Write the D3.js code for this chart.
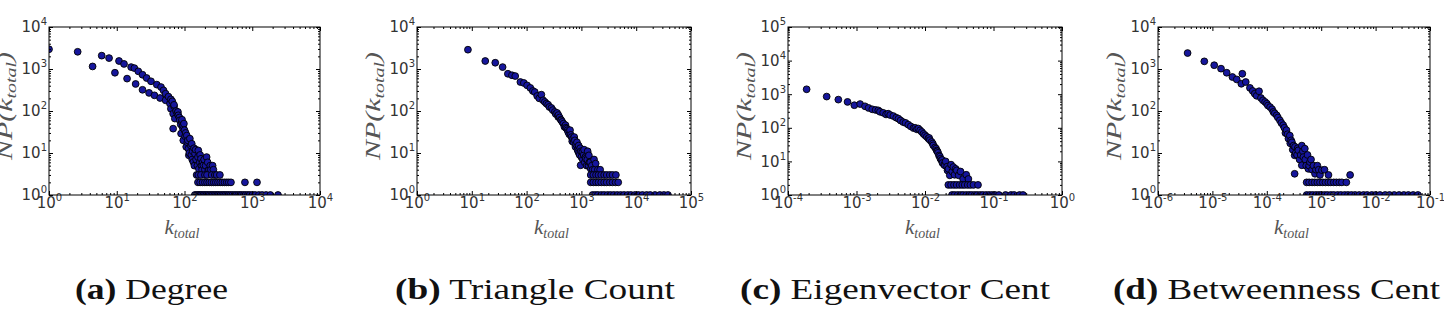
<!DOCTYPE html>
<html>
<head>
<meta charset="utf-8">
<script src="https://cdn.jsdelivr.net/npm/d3@7"></script>
<style>
  body { margin: 0; background: #fff; }
  svg { display: block; }
  .tick text { fill: #333; }
  .box { fill: none; stroke: #000; stroke-width: 1; }
  .dot { fill: #16169c; stroke: #000; stroke-width: 0.9; }
  .axis-title { font-family: "Liberation Serif", serif; font-style: italic; fill: #555; }
  .caption { font-family: "Liberation Serif", serif; fill: #111; }
</style>
</head>
<body>
<svg id="chart" width="1444" height="317"></svg>
<script>
// ---- data: [k_total, NP(k_total)] ----
const degree = [
  [1,2950],[2.65,2570],[4.4,1150],[6,2080],[7.7,1820],[9.4,815],[10.8,1550],[12.8,1320],
  [14.2,590],[16.3,1110],[18.2,1050],[19,440],[20.8,880],[24,730],[24,320],[27.6,610],
  [30,270],[32,510],[36,236],[39,425],[43.6,204],[45,372],[49,310],[52.6,180],[52.6,258],
  [58,220],[61,150],[63,190],[63,113],[66,170],[68,38],[68,86],[70,130],[70,140],[72,66],
  [75,100],[78,88],[80,95],[81,79],[84,70],[85,60],[88,48],[89,29],[91,55],[92,62],[94,40],
  [95,45],[96,20],[98,50],[100,35],[102,25],[104,30],[106,14],[108,26],[110,18],[112,20],
  [114,12.6],[116,8.8],[118,10],[120,22],[124,15],[126,9],[128,16.6],[130,7],[132,11],
  [135,6.1],[138,13],[140,5],[143,9.6],[146,12],[148,7],[155,5],[158,8],[160,11.5],
  [163,4.2],[168,6],[170,9],[175,7.3],[178,5],[182,4],[185,6],[190,5.1],[195,7],[200,4],
  [205,5],[212,8],[220,6],[225,3.9],[230,4],[240,5],[245,4],[260,5],[267,4]
];
const degreeThrees = [151, 160, 175, 200, 215, 252, 280, 298, 333];
const degreeTwos = [158, 170, 185, 200, 215, 232, 250, 270, 290, 312, 336, 362, 390, 420, 450, 485, 780, 1175];
const degreeOnes = [142, 150, 158, 165, 172, 180, 190, 200, 210, 222, 235, 248, 260, 275, 290, 305, 320, 340,
  360, 380, 400, 425, 450, 480, 510, 545, 580, 620, 660, 700, 750, 800, 860, 920, 1000, 1100, 1250, 1400,
  1600, 1850, 2400];

const triangles = [
  [8.5,2880],[17.6,1550],[26.8,1410],[36.5,1110],[45.5,770],[54,710],[62,680],[77,490],
  [89,465],[102,408],[117,355],[130,300],[141,283],[156,228],[170,200],[186,245],[200,180],
  [215,164],[230,150],[247,141],[260,125],[284,118],[300,105],[327,95],[340,85],[360,90],
  [378,72],[380,80],[400,70],[420,62],[430,60],[447,55],[470,50],[490,42],[513,46],[520,40],
  [540,38],[560,35],[575,31.6],[600,28],[620,35],[640,27],[660,24],[680,19],[700,22],
  [720,18],[740,24],[760,20],[780,14],[800,16],[830,18],[850,12],[870,11],[890,15],[900,10],
  [930,9],[950,13],[967,5.1],[980,11],[1000,8],[1040,10.6],[1060,7],[1100,9],[1120,12],
  [1150,6],[1180,8],[1200,7.3],[1250,5],[1280,7],[1300,11],[1350,5],[1370,8.8],[1400,6],
  [1450,6],[1480,4.2],[1550,5],[1600,4],[1700,7],[1750,4],[1820,5.6],[1950,3.2],[2000,4],
  [2200,4]
];
const triangleThrees = [1480, 1650, 1850, 2050, 2300, 2600, 2900, 3300, 3700, 4260];
const triangleTwos = [1480, 1650, 1850, 2050, 2300, 2600, 2900, 3300, 3700, 4200, 4700];
const triangleOnes = [1600, 1800, 2000, 2300, 2600, 3000, 3400, 3900, 4500, 5200, 6000, 7000, 8000, 9500,
  11000, 13000, 15500, 18000, 22000, 27000, 32000, 38000];

const eigenvector = [
  [1.87e-4,1400],[3.67e-4,850],[5.43e-4,690],[7.4e-4,590],[9.3e-4,470],[1.13e-3,510],
  [1.33e-3,437],[1.5e-3,390],[1.7e-3,355],[1.9e-3,340],[2.08e-3,330],[2.2e-3,300],
  [2.45e-3,280],[2.7e-3,250],[2.9e-3,263],[3.1e-3,240],[3.45e-3,224],[3.8e-3,200],
  [4.1e-3,186],[4.4e-3,165],[4.8e-3,148],[5.2e-3,140],[5.7e-3,124],[6.2e-3,110],
  [6.8e-3,98],[7.2e-3,100],[7.6e-3,90],[8e-3,95],[8.5e-3,84],[9e-3,75],[9.5e-3,66],
  [0.01,60],[0.0106,54],[0.0112,48],[0.0115,50],[0.0118,43],[0.0125,38],[0.013,34],
  [0.0132,30],[0.014,26],[0.0145,24],[0.0148,21],[0.0152,20],[0.0155,18],[0.016,15],
  [0.0165,14],[0.0168,12],[0.0174,10.8],[0.0178,11],[0.018,9],[0.019,8],[0.0195,7.6],
  [0.02,10],[0.021,7],[0.0213,5.4],[0.022,6],[0.023,3.85],[0.024,8],[0.025,5],[0.0259,6.8],
  [0.027,4],[0.028,6],[0.029,5.4],[0.031,3.85],[0.033,5],[0.036,3],[0.04,4],[0.043,3]
];
const eigenTwos = [0.0219, 0.024, 0.0265, 0.029, 0.032, 0.035, 0.038, 0.042, 0.046, 0.051, 0.0594];
const eigenOnes = [0.0248, 0.027, 0.03, 0.033, 0.036, 0.04, 0.044, 0.048, 0.053, 0.058, 0.064, 0.07, 0.078,
  0.086, 0.095, 0.105, 0.12, 0.15, 0.18, 0.2, 0.24, 0.27];

const betweenness = [
  [3.5e-6,2400],[7.1e-6,1520],[1.08e-5,1230],[1.44e-5,1020],[1.83e-5,815],[2.33e-5,645],
  [2.8e-5,565],[3.55e-5,770],[3.4e-5,445],[4.1e-5,490],[4.9e-5,355],[5.5e-5,300],[6e-5,258],
  [6.5e-5,230],[7.2e-5,295],[7.8e-5,204],[8.5e-5,180],[9.3e-5,164],[1e-4,150],[1.05e-4,135],
  [1.15e-4,124],[1.25e-4,110],[1.32e-4,95],[1.4e-4,88],[1.52e-4,79],[1.6e-4,70],[1.74e-4,60],
  [1.85e-4,52],[2e-4,46],[2.1e-4,40],[2.2e-4,30],[2.3e-4,35],[2.4e-4,28],[2.5e-4,22],
  [2.65e-4,26],[2.7e-4,17],[2.8e-4,20],[2.9e-4,18],[3e-4,12],[3.1e-4,15],[3.25e-4,8.8],
  [3.3e-4,14],[3.25e-4,3.2],[3.4e-4,10],[3.6e-4,9],[3.7e-4,13],[3.8e-4,11.6],[4e-4,7],
  [4.2e-4,9],[4.4e-4,15],[4.4e-4,5.1],[4.6e-4,11],[4.7e-4,8],[5e-4,12.7],[5.1e-4,7],
  [5.3e-4,5],[5.6e-4,9],[5.8e-4,4.2],[6e-4,5],[6.2e-4,6.1],[6.5e-4,7],[6.8e-4,4],[7.2e-4,5],
  [7.7e-4,3.2],[8e-4,4],[8.5e-4,5],[9e-4,4],[9.5e-4,3],[1.03e-3,3.9],[1.15e-3,4],[1.36e-3,3],
  [3.4e-3,3]
];
const betweenTwos = [5.4e-4, 6e-4, 6.8e-4, 7.6e-4, 8.5e-4, 9.5e-4, 1.07e-3, 1.2e-3, 1.35e-3, 1.5e-3,
  1.7e-3, 1.9e-3, 2.15e-3, 2.4e-3, 2.9e-3];
const betweenOnes = [5.4e-4, 6.2e-4, 7e-4, 8e-4, 9e-4, 1e-3, 1.15e-3, 1.3e-3, 1.5e-3, 1.7e-3, 2e-3, 2.3e-3,
  2.7e-3, 3.1e-3, 3.6e-3, 4.2e-3, 5e-3, 6e-3, 7e-3, 8.5e-3, 0.01, 0.012, 0.015, 0.018, 0.022, 0.027,
  0.033, 0.04, 0.049, 0.06];

// tick label exponents
const xExponents = [[0,1,2,3,4], [0,1,2,3,4,5], [-4,-3,-2,-1,0], [-6,-5,-4,-3,-2,-1]];
const yExponents = [[0,1,2,3,4], [0,1,2,3,4], [0,1,2,3,4,5], [0,1,2,3,4]];

const captionTags = ["(a)", "(b)", "(c)", "(d)"];
const captionNames = ["Degree", "Triangle Count", "Eigenvector Cent", "Betweenness Cent"];

// ---- layout ----
const boxes = [
  {x0: 49, x1: 320}, {x0: 417, x1: 691}, {x0: 788, x1: 1062}, {x0: 1158, x1: 1430}
];
const boxTop = 27, boxBottom = 195;
const captionPos = [{x: 75, len: 153}, {x: 395, len: 280}, {x: 740, len: 310}, {x: 1113, len: 327}];

function withRows(head, rows)
{
    let out = head.slice();
    rows.forEach(function(r)
    {
        r.list.forEach(function(k) { out.push([k, r.n]); });
    });
    return out;
}

const series = [
    withRows(degree, [{n: 1, list: degreeOnes}, {n: 2, list: degreeTwos}, {n: 3, list: degreeThrees}]),
    withRows(triangles, [{n: 1, list: triangleOnes}, {n: 2, list: triangleTwos}, {n: 3, list: triangleThrees}]),
    withRows(eigenvector, [{n: 1, list: eigenOnes}, {n: 2, list: eigenTwos}]),
    withRows(betweenness, [{n: 1, list: betweenOnes}, {n: 2, list: betweenTwos}])
];

/** One log-log scatter panel. */
class Panel
{
    constructor(svg, i)
    {
        this.i = i;
        this.box = boxes[i];
        this.xe = xExponents[i];
        this.ye = yExponents[i];
        this.x = d3.scaleLog()
            .domain([Math.pow(10, this.xe[0]), Math.pow(10, this.xe[this.xe.length - 1])])
            .range([this.box.x0, this.box.x1]);
        this.y = d3.scaleLog()
            .domain([1, Math.pow(10, this.ye[this.ye.length - 1])])
            .range([boxBottom, boxTop]);
        this.g = svg.append("g").attr("class", "panel");
    }

    minors(exps)
    {
        let out = [];
        for (let e = exps[0]; e < exps[exps.length - 1]; e++)
            for (let m = 2; m < 10; m++) out.push(m * Math.pow(10, e));
        return out;
    }

    drawPoints()
    {
        const id = "clip" + this.i;
        this.g.append("clipPath").attr("id", id)
        .append("rect")
        .attr("x", this.box.x0)
        .attr("y", boxTop)
        .attr("width", this.box.x1 - this.box.x0)
        .attr("height", boxBottom - boxTop);

        const x = this.x, y = this.y;
        this.g.append("g")
        .attr("clip-path", "url(#" + id + ")")
        .selectAll("circle")
        .data(series[this.i])
        .enter()
        .append("circle")
        .attr("class", "dot")
        .attr("cx", d => x(d[0]))
        .attr("cy", d => y(d[1]))
        .attr("r", 3.4);
    }

    drawAxes()
    {
        const x = this.x, y = this.y, g = this.g;
        const xMaj = this.xe.map(e => Math.pow(10, e));
        const yMaj = this.ye.map(e => Math.pow(10, e));
        const xe = this.xe, ye = this.ye;

        const setup = function(sel)
        {
            sel.select(".domain").remove();
            sel.attr("font-size", 15).attr("font-family", "DejaVu Sans").attr("color", "#000");
        };
        const sup = function(exps)
        {
            return function(sel)
            {
                sel.selectAll(".tick text").each(function(d, k)
                {
                    const t = d3.select(this);
                    t.append("tspan").text("10");
                    t.append("tspan").attr("dy", -7).attr("font-size", 10).text(exps[k]);
                });
            };
        };

        // major, labelled
        g.append("g").attr("transform", "translate(0," + boxBottom + ")")
        .call(d3.axisBottom(x).tickValues(xMaj).tickSize(-4).tickPadding(2).tickFormat(""))
        .call(setup).call(sup(xe));
        g.append("g").attr("transform", "translate(" + this.box.x0 + ",0)")
        .call(d3.axisLeft(y).tickValues(yMaj).tickSize(-4).tickPadding(2).tickFormat(""))
        .call(setup).call(sup(ye));
        // major, opposite sides
        g.append("g").attr("transform", "translate(0," + boxTop + ")")
        .call(d3.axisTop(x).tickValues(xMaj).tickSize(-4).tickFormat(""))
        .call(setup);
        g.append("g").attr("transform", "translate(" + this.box.x1 + ",0)")
        .call(d3.axisRight(y).tickValues(yMaj).tickSize(-4).tickFormat(""))
        .call(setup);
        // minor ticks, all four sides
        const xm = this.minors(xe), ym = this.minors(ye);
        [[d3.axisBottom(x), boxBottom, xm, true], [d3.axisTop(x), boxTop, xm, true],
         [d3.axisLeft(y), this.box.x0, ym, false], [d3.axisRight(y), this.box.x1, ym, false]]
        .forEach(function(a)
        {
            g.append("g")
            .attr("transform", a[3] ? "translate(0," + a[1] + ")" : "translate(" + a[1] + ",0)")
            .call(a[0].tickValues(a[2]).tickSize(-2).tickFormat(""))
            .call(setup);
        });

        g.append("rect")
        .attr("class", "box")
        .attr("x", this.box.x0)
        .attr("y", boxTop)
        .attr("width", this.box.x1 - this.box.x0)
        .attr("height", boxBottom - boxTop);
    }

    drawTitles()
    {
        const cx = (this.box.x0 + this.box.x1) / 2;
        const xt = this.g.append("text")
        .attr("class", "axis-title")
        .attr("x", cx - 20)
        .attr("y", 234)
        .attr("font-size", 21);
        xt.append("tspan").text("k");
        xt.append("tspan").attr("dy", 4).attr("font-size", 14).text("total");

        const yt = this.g.append("text")
        .attr("class", "axis-title")
        .attr("transform", "translate(" + (this.box.x0 - 37) + ",106) rotate(-90)")
        .attr("text-anchor", "middle")
        .attr("font-size", 21)
        .attr("textLength", 108)
        .attr("lengthAdjust", "spacingAndGlyphs");
        yt.append("tspan").text("NP(k");
        yt.append("tspan").attr("dy", 4).attr("font-size", 14).text("total");
        yt.append("tspan").attr("dy", -4).text(")");

        const cap = this.g.append("text")
        .attr("class", "caption")
        .attr("x", captionPos[this.i].x)
        .attr("y", 299)
        .attr("font-size", 29)
        .attr("textLength", captionPos[this.i].len)
        .attr("lengthAdjust", "spacingAndGlyphs");
        cap.append("tspan").attr("font-weight", "bold").text(captionTags[this.i]);
        cap.append("tspan").text(" " + captionNames[this.i]);
    }
}

const svg = d3.select("#chart");
for (let i = 0; i < 4; i++)
{
    const p = new Panel(svg, i);
    p.drawPoints();
    p.drawAxes();
    p.drawTitles();
}
</script>
</body>
</html>
